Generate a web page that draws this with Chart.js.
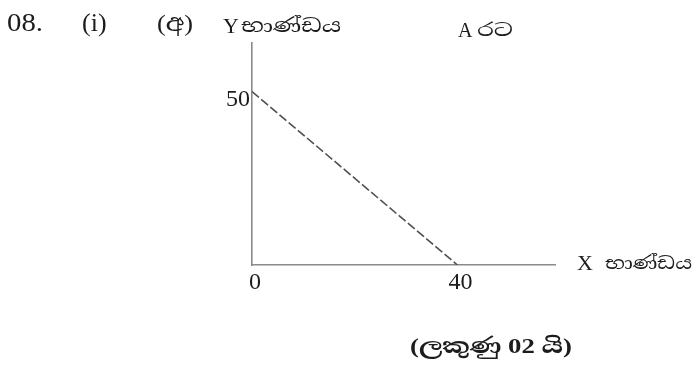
<!DOCTYPE html>
<html>
<head>
<meta charset="utf-8">
<script src="https://cdn.jsdelivr.net/npm/chart.js@4.4.1/dist/chart.umd.min.js"></script>
<style>
  html, body { margin: 0; padding: 0; background: #fff; }
  canvas { display: block; }
</style>
</head>
<body>
<canvas id="chart" width="696" height="366"></canvas>
<script>
// production possibility line for country A
const xValues = [0, 40];
const yValues = [50, 0];
const xTicks = [0, 40];
const yTicks = [50];

const yTitle = ['Y', 'භාණ්ඩය'];
const xTitle = ['X', 'භාණ්ඩය'];
const countryLabel = ['A', 'රට'];
const headLabels = ['08.', '(i)', '(අ)'];
const marksLabel = '(ලකුණු 02 යි)';

const serif = '"Liberation Serif", "Noto Serif Sinhala", "Noto Sans Sinhala", serif';

const points = xValues.map((x, i) => ({ x: x, y: yValues[i] }));

// draw text, stretched sideways to a width when one is given
function drawText(ctx, text, x, y, font, width) {
  ctx.font = font;
  if (!width) {
    ctx.fillText(text, x, y);
    return;
  }
  const w = ctx.measureText(text).width;
  ctx.save();
  ctx.translate(x, y);
  ctx.scale(width / w, 1);
  ctx.fillText(text, 0, 0);
  ctx.restore();
}

const labelsPlugin = {
  id: 'labels',
  afterDraw(chart) {
    const ctx = chart.ctx;
    const area = chart.chartArea;
    ctx.save();
    ctx.fillStyle = '#1c1c1c';
    ctx.textBaseline = 'alphabetic';
    ctx.textAlign = 'left';

    drawText(ctx, headLabels[0], 7, 31, '26px ' + serif, 36);
    drawText(ctx, headLabels[1], 82, 31, '26px ' + serif);
    drawText(ctx, headLabels[2], 157, 31, '24px ' + serif, 36);

    drawText(ctx, yTitle[0], area.left - 29, 33, '22px ' + serif);
    drawText(ctx, yTitle[1], area.left - 11, 32, '18px ' + serif, 100);

    drawText(ctx, countryLabel[0], 458, 37, '20px ' + serif);
    drawText(ctx, countryLabel[1], 477, 36, '17px ' + serif, 36);

    drawText(ctx, xTitle[0], area.right + 22, area.bottom + 5, '22px ' + serif);
    drawText(ctx, xTitle[1], area.right + 50, area.bottom + 4, '17px ' + serif, 87);

    drawText(ctx, marksLabel, 410, 353, 'bold 21px ' + serif, 162);
    ctx.restore();
  }
};

new Chart(document.getElementById('chart'), {
  type: 'scatter',
  data: {
    datasets: [{
      data: points,
      showLine: true,
      borderColor: '#505050',
      borderWidth: 1.6,
      borderDash: [9, 3],
      pointRadius: 0
    }]
  },
  plugins: [labelsPlugin],
  options: {
    responsive: false,
    animation: false,
    layout: { padding: { left: 212, right: 141, top: 43, bottom: 71 } },
    plugins: { legend: { display: false }, tooltip: { enabled: false } },
    scales: {
      x: {
        type: 'linear',
        min: 0,
        max: 59,
        afterFit: s => { s.height = 30; },
        afterBuildTicks: s => { s.ticks = xTicks.map(v => ({ value: v })); },
        grid: { display: false, drawTicks: false },
        border: { display: true, color: '#8a8a8a', width: 1.6, dash: [2, 1] },
        ticks: {
          color: '#1c1c1c',
          font: { family: serif, size: 24 },
          padding: 3,
          labelOffset: 3,
          maxRotation: 0
        }
      },
      y: {
        type: 'linear',
        min: 0,
        max: 64,
        afterFit: s => { s.width = 40; },
        afterBuildTicks: s => { s.ticks = yTicks.map(v => ({ value: v })); },
        grid: { display: false, drawTicks: false },
        border: { display: true, color: '#8a8a8a', width: 1.6, dash: [2, 1] },
        ticks: {
          color: '#1c1c1c',
          font: { family: serif, size: 24 },
          padding: 2,
          labelOffset: 8
        }
      }
    }
  }
});
</script>
</body>
</html>
